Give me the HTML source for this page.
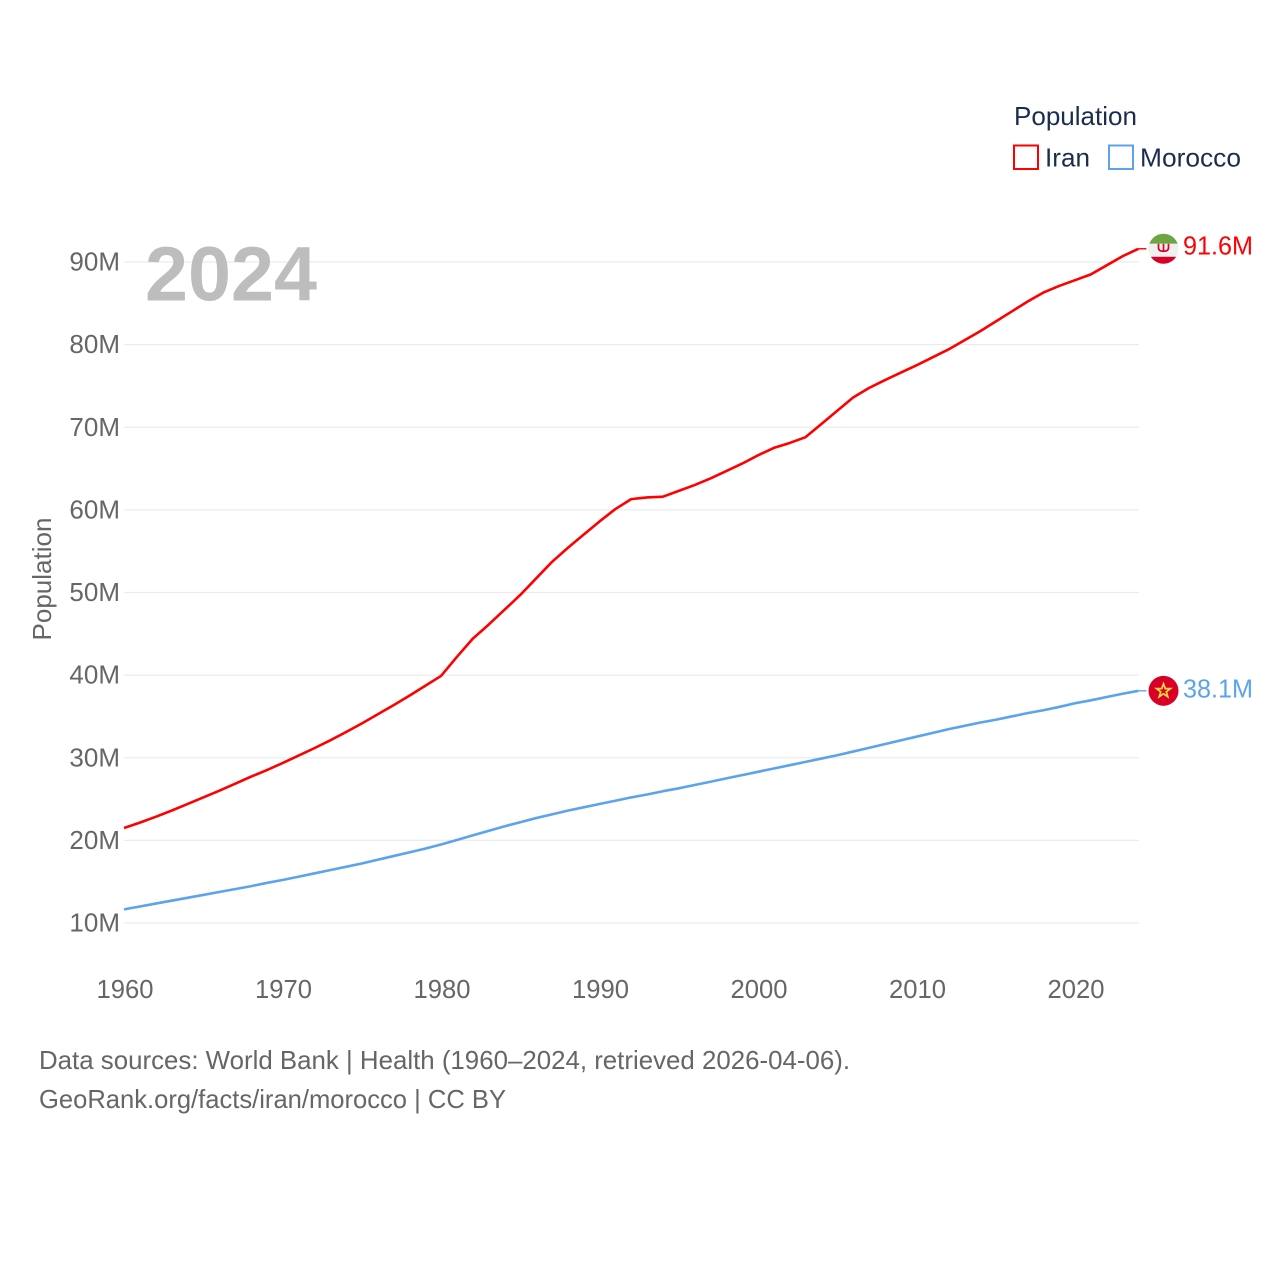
<!DOCTYPE html>
<html lang="en">
<head>
<meta charset="utf-8">
<title>Population: Iran and Morocco</title>
<style>
html,body{margin:0;padding:0;background:#fff;}
svg{display:block;font-family:"Liberation Sans",sans-serif;}
</style>
</head>
<body>
<svg id="chart" xmlns="http://www.w3.org/2000/svg" width="1280" height="1280" viewBox="0 0 1280 1280">
  <rect x="0" y="0" width="1280" height="1280" fill="#fff"/>
  <g id="grid"></g>
  <g id="yticks"></g>
  <g id="xticks"></g>
  <text x="145" y="300.5" font-size="77" font-weight="700" fill="#bdbdbd" textLength="172" lengthAdjust="spacingAndGlyphs">2024</text>
  <text transform="translate(51,579) rotate(-90)" text-anchor="middle" font-size="26" fill="#666" textLength="123" lengthAdjust="spacingAndGlyphs">Population</text>
  <g id="series"></g>

  <g id="iran-end">
    <clipPath id="iran-clip"><circle cx="1163.5" cy="0" r="15"/></clipPath>
    <g clip-path="url(#iran-clip)">
      <rect x="1148" y="-15.5" width="31" height="10.5" fill="#6da544"/>
      <rect x="1148" y="-5" width="31" height="13" fill="#f0f0f0"/>
      <rect x="1148" y="8" width="31" height="8" fill="#d80027"/>
      <path d="M1158.5 -5v4q0 3.5 5 3.5t5-3.5v-4M1163.5 -5v8" fill="none" stroke="#d80027" stroke-width="1.7"/>
    </g>
    <text id="iran-value" x="1183" y="5.5" font-size="26" fill="#ff0000" textLength="70" lengthAdjust="spacingAndGlyphs"></text>
  </g>
  <g id="morocco-end">
    <g>
      <circle cx="1163.5" cy="0" r="15" fill="#d80027"/>
      <polygon points="1163.5,-7 1165.3,-2.2 1170.5,-2.2 1166.3,1 1167.8,6 1163.5,3 1159.2,6 1160.7,1 1156.5,-2.2 1161.7,-2.2" fill="none" stroke="#ffda44" stroke-width="1.7"/>
    </g>
    <text id="morocco-value" x="1183" y="6.5" font-size="26" fill="#5ba4ec" textLength="70" lengthAdjust="spacingAndGlyphs"></text>
  </g>

  <g>
    <text x="1014" y="125" font-size="26" fill="#1b2d4f" textLength="123" lengthAdjust="spacingAndGlyphs">Population</text>
    <g>
      <rect x="1014" y="145.5" width="24" height="23.5" fill="#fff" stroke="#ff0000" stroke-width="2"/>
      <text x="1045" y="166.5" font-size="26" fill="#1b2d4f" textLength="45" lengthAdjust="spacingAndGlyphs">Iran</text>
    </g>
    <g>
      <rect x="1109" y="145.5" width="24" height="23.5" fill="#fff" stroke="#5ba4ec" stroke-width="2"/>
      <text x="1140" y="166.5" font-size="26" fill="#1b2d4f" textLength="101" lengthAdjust="spacingAndGlyphs">Morocco</text>
    </g>
  </g>

  <g>
    <text x="39" y="1069" font-size="26" fill="#666" textLength="811" lengthAdjust="spacingAndGlyphs">Data sources: World Bank | Health (1960–2024, retrieved 2026-04-06).</text>
    <text x="39" y="1108" font-size="26" fill="#666" textLength="467" lengthAdjust="spacingAndGlyphs">GeoRank.org/facts/iran/morocco | CC BY</text>
  </g>
</svg>
<script>
const startYear = 1960;
const yTickValues = [10, 20, 30, 40, 50, 60, 70, 80, 90];
const xTickYears = [1960, 1970, 1980, 1990, 2000, 2010, 2020];
const iranValues = [
  21.5, 22.15, 22.85, 23.6, 24.4, 25.2, 26.0, 26.85, 27.7, 28.5,
  29.35, 30.25, 31.15, 32.1, 33.1, 34.15, 35.25, 36.35, 37.5, 38.7,
  39.9, 42.2, 44.4, 46.1, 47.9, 49.7, 51.7, 53.7, 55.4, 57.0,
  58.6, 60.1, 61.3, 61.5, 61.6, 62.3, 63.0, 63.8, 64.7, 65.6,
  66.6, 67.5, 68.1, 68.8, 70.4, 72.0, 73.6, 74.75, 75.7, 76.6,
  77.5, 78.45, 79.4, 80.5, 81.6, 82.8, 84.0, 85.2, 86.3, 87.1,
  87.8, 88.5, 89.6, 90.7, 91.6
];
const moroccoValues = [
  11.65, 12.0, 12.35, 12.7, 13.05, 13.4, 13.75, 14.1, 14.45, 14.85,
  15.2, 15.6, 16.0, 16.4, 16.8, 17.2, 17.65, 18.1, 18.55, 19.0,
  19.5, 20.05, 20.6, 21.15, 21.7, 22.2, 22.7, 23.15, 23.6, 24.0,
  24.4, 24.8, 25.2, 25.55, 25.95, 26.3, 26.7, 27.1, 27.5, 27.9,
  28.3, 28.7, 29.1, 29.5, 29.9, 30.3, 30.75, 31.2, 31.65, 32.1,
  32.55, 33.0, 33.45, 33.85, 34.25, 34.6, 35.0, 35.4, 35.75, 36.15,
  36.6, 36.95, 37.35, 37.75, 38.1
];

const svgNS = 'http://www.w3.org/2000/svg';
const xPos = function (year) { return 124 + (year - startYear) * 15.85; };
const yPos = function (value) { return 923 - (value - 10) * 8.2625; };
const plotRight = 1139;

function mk(tag, parent, attrs) {
  const el = document.createElementNS(svgNS, tag);
  Object.keys(attrs).forEach(function (k) { el.setAttribute(k, attrs[k]); });
  parent.appendChild(el);
  return el;
}

const gridGroup = document.getElementById('grid');
const yTickGroup = document.getElementById('yticks');
yTickValues.forEach(function (v) {
  const line = mk('line', gridGroup, { x1: 124, x2: plotRight, y1: yPos(v), y2: yPos(v), stroke: '#ececec', 'stroke-width': 1.2 });
  
  
  const label = mk('text', yTickGroup, { x: 120, y: yPos(v) + 8.5, 'text-anchor': 'end', 'font-size': 26, fill: '#666' });
  
  
  label.textContent = v + 'M';
});

const xTickGroup = document.getElementById('xticks');
xTickYears.forEach(function (y) {
  const label = mk('text', xTickGroup, { x: xPos(y) + 1, y: 998, 'text-anchor': 'middle', 'font-size': 26, fill: '#666', textLength: 57, lengthAdjust: 'spacingAndGlyphs' });
  
  
  label.textContent = String(y);
});

const seriesGroup = document.getElementById('series');
function drawSeries(values, color, seriesName, endId, valueId) {
  const pts = values.map(function (v, i) { return xPos(startYear + i).toFixed(2) + ',' + yPos(v).toFixed(2); });
  const line = mk('polyline', seriesGroup, { points: pts.join(' '), fill: 'none', stroke: color, 'stroke-width': 2.6, 'stroke-linejoin': 'round' });
  
  
  const last = values[values.length - 1];
  const lastY = yPos(last);
  const leader = mk('line', seriesGroup, { x1: xPos(2024), x2: xPos(2024) + 8, y1: lastY, y2: lastY, stroke: color, 'stroke-width': 1.4 });
  
  
  document.getElementById(endId).setAttribute('transform', 'translate(0,' + lastY.toFixed(2) + ')');
  document.getElementById(valueId).textContent = last.toFixed(1) + 'M';
}
drawSeries(iranValues, '#ff0000', 'iran', 'iran-end', 'iran-value');
drawSeries(moroccoValues, '#5ba4ec', 'morocco', 'morocco-end', 'morocco-value');
</script>
</body>
</html>
